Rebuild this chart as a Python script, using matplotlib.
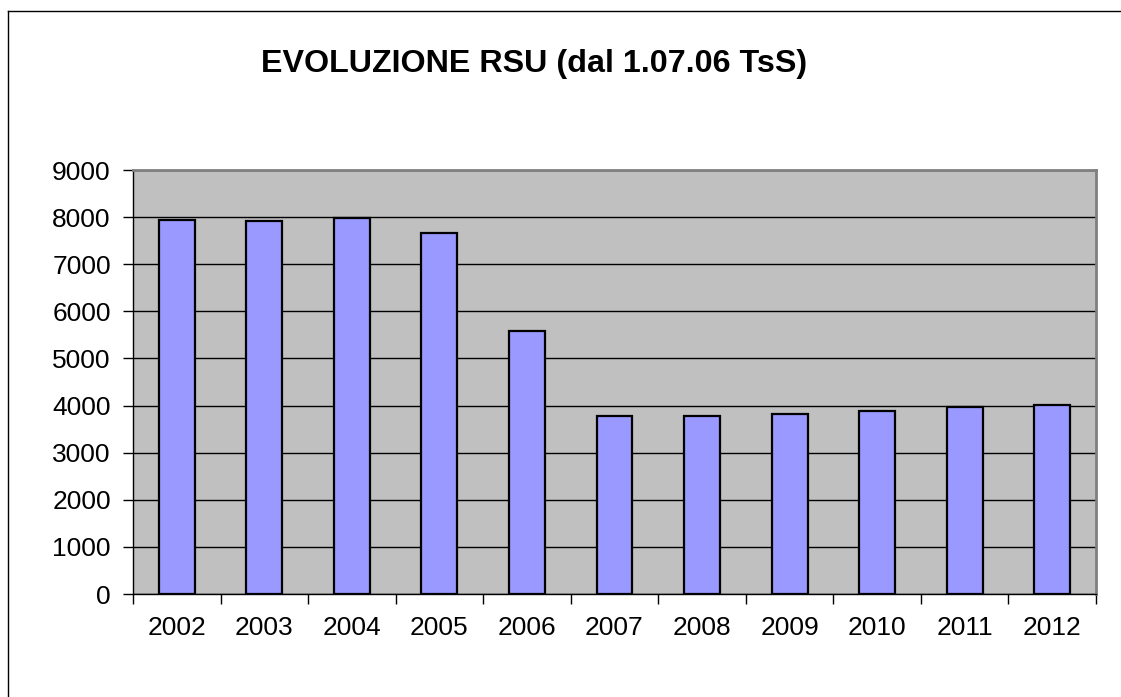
import matplotlib.pyplot as plt
from matplotlib.lines import Line2D
import numpy as np

# -------------------------
# Data
# -------------------------
years = ["2002", "2003", "2004", "2005", "2006", "2007",
         "2008", "2009", "2010", "2011", "2012"]
rsu = [7940, 7920, 7985, 7665, 5590, 3775, 3775, 3820, 3880, 3965, 4020]
y_ticks = [0, 1000, 2000, 3000, 4000, 5000, 6000, 7000, 8000, 9000]

plt.rcParams["font.family"] = ["Liberation Sans", "DejaVu Sans"]

W, H = 1121, 697
fig = plt.figure(figsize=(W / 100, H / 100), dpi=100)
ax = fig.add_axes([133 / W, 1 - 594 / H, (1096 - 133) / W, (594 - 170) / H])

x = np.arange(len(years))
ax.set_facecolor("#C0C0C0")
ax.bar(x, rsu, width=0.41, color="#9999FF", edgecolor="black",
       linewidth=1.6, zorder=3)

# -------------------------
# Axes
# -------------------------
ax.set_ylim(0, 9000)
ax.set_xlim(-0.5, len(years) - 0.5)
ax.set_yticks(y_ticks)
ax.set_yticklabels([str(v) for v in y_ticks], fontsize=19)
ax.yaxis.grid(True, color="black", linewidth=1.0, zorder=1)
ax.set_axisbelow(True)

ax.set_xticks(x)
ax.set_xticklabels(years, fontsize=19)
ax.set_xticks(np.arange(len(years) + 1) - 0.5, minor=True)
ax.tick_params(axis="x", which="major", length=0, pad=16)
ax.tick_params(axis="x", which="minor", length=7, width=1, color="black")
ax.tick_params(axis="y", length=7, width=1, pad=9)

for side in ["left", "bottom"]:
    ax.spines[side].set_color("black")
    ax.spines[side].set_linewidth(1.0)
for side in ["top", "right"]:
    ax.spines[side].set_color("#808080")
    ax.spines[side].set_linewidth(2.0)

fig.text(534 / W, 1 - 64 / H, "EVOLUZIONE RSU (dal 1.07.06 TsS)",
         ha="center", va="center", fontsize=23.2, fontweight="bold")

# outer chart frame
fig.add_artist(Line2D([8 / W, 8 / W], [0, 1 - 11 / H], color="black", lw=1))
fig.add_artist(Line2D([8 / W, 1], [1 - 11 / H, 1 - 11 / H], color="black", lw=1))

fig.savefig("out.png", dpi=100)
